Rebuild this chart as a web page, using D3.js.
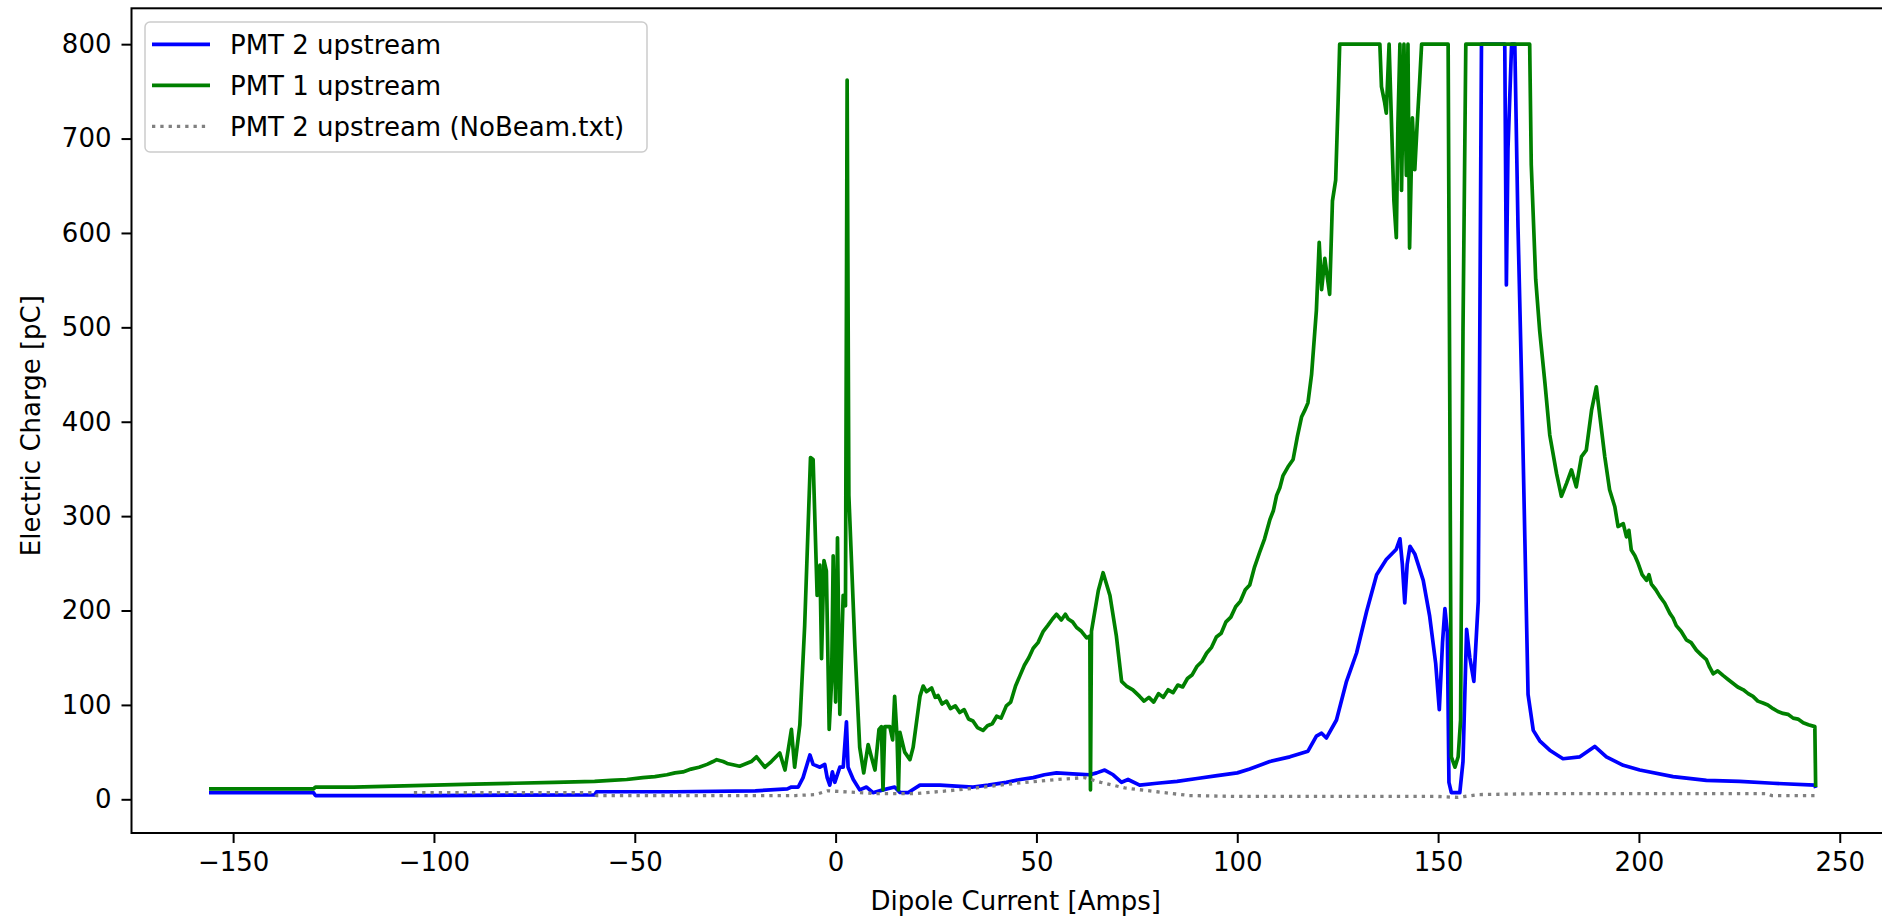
<!DOCTYPE html>
<html>
<head>
<meta charset="utf-8">
<script src="https://cdn.jsdelivr.net/npm/d3@7"></script>
<style>
  body { margin: 0; background: #fff; }
  text { font-family: "DejaVu Sans", sans-serif; fill: #000; }
</style>
</head>
<body>
<svg id="chart" width="1882" height="917"></svg>
<script>
// series values: [dipole current (A), charge (pC)]
const pmt2Upstream = [
  [-156, 7], [-130, 7], [-129.5, 4], [-100, 4], [-80, 4.5], [-60, 4.6], [-59.5, 8], [-40, 8],
  [-20, 9], [-12, 11], [-11, 13], [-9.3, 13], [-8.1, 23], [-6.4, 47], [-5.6, 37], [-3.9, 34],
  [-2.7, 37], [-2.1, 23], [-1.45, 15], [-0.8, 29], [-0.2, 18], [1.05, 34], [1.9, 34], [2.7, 82],
  [3.1, 34], [4.4, 21], [6.0, 10], [7.7, 13], [9.3, 7], [11.8, 10], [14.7, 13], [16, 7.3],
  [18, 7], [21, 15], [26, 15], [30, 14], [34.2, 13], [38, 15], [42.5, 18], [46, 21], [49.2, 23],
  [52, 26], [55, 28], [59, 27], [63.3, 26], [65, 28], [67, 31], [69.1, 26], [71.2, 18],
  [72.8, 21], [75.7, 15], [80, 17], [85, 19], [90, 22], [95, 25], [100, 28], [103.1, 32],
  [108.1, 40], [113.1, 45], [117.6, 51], [119.7, 67], [121, 70], [122.2, 65], [124.7, 84],
  [127.2, 125], [129.7, 155], [132.2, 199], [134.7, 238], [137.1, 254], [139.6, 265],
  [140.5, 276], [141.1, 249], [141.7, 208], [142.3, 249], [143, 268], [144.2, 260],
  [146.3, 232], [147.9, 194], [149.4, 144], [150.3, 95], [151.1, 166], [151.7, 202],
  [152.3, 177], [152.7, 18], [153.3, 7], [155.4, 7], [156.2, 40], [157.1, 180], [157.9, 150],
  [158.9, 125], [160, 210], [160.8, 800], [166.6, 800], [167, 545], [167.4, 689], [168.3, 800],
  [169.1, 800], [169.9, 606], [170.8, 441], [171.6, 276], [172.4, 111], [173.7, 73],
  [175.3, 62], [177.8, 52], [181.1, 43], [185.3, 45], [189, 56], [191.9, 45], [196.1, 36],
  [200.2, 31], [208.5, 24], [216.8, 20], [225.1, 19], [233.4, 17], [243.8, 15], [244, 12]
];

const pmt1Upstream = [
  [-156, 11], [-140, 11], [-130, 11], [-129.5, 13], [-120, 13], [-110, 14], [-100, 15],
  [-90, 16], [-80, 17], [-70, 18], [-60, 19], [-56, 20], [-52, 21], [-48, 23], [-45, 24],
  [-42, 26], [-40, 28], [-38, 29], [-36, 32], [-34, 34], [-32, 37], [-30.5, 40], [-29.6, 42],
  [-28, 40], [-27, 38], [-25, 36], [-23.9, 35], [-21, 40], [-19.7, 45],
  [-17.6, 34], [-16, 40], [-13.9, 49], [-12.6, 31], [-11, 74], [-10.2, 34], [-8.9, 79],
  [-7.7, 184], [-6.25, 362], [-5.6, 360], [-4.6, 216], [-3.9, 248], [-3.5, 149], [-2.9, 253],
  [-2.3, 242], [-1.6, 74], [-1.0, 125], [-0.6, 258], [0.0, 103], [0.47, 277], [1.05, 90],
  [1.88, 216], [2.46, 205], [2.87, 762], [3.3, 322], [4.8, 162], [6.0, 55], [7.0, 28],
  [8.1, 58], [8.9, 45], [9.8, 31], [10.8, 74], [11.4, 77], [11.8, 10], [12.25, 77],
  [13.5, 77], [14.2, 63], [14.7, 109], [15.3, 66], [15.65, 10], [16, 71], [17.2, 50],
  [18.5, 42], [19.3, 55], [21, 109], [21.8, 120], [22.6, 114], [23.9, 118], [24.8, 108],
  [25.5, 110], [26.5, 101], [27.6, 104], [28.6, 96], [29.8, 99], [30.9, 92], [32, 95],
  [33.1, 85], [34.2, 83], [35.3, 76], [36.7, 73], [37.8, 78], [39, 80], [40.1, 88],
  [41.2, 86], [42.5, 99], [43.6, 103], [44.8, 120], [45.9, 131], [47, 142], [48.1, 150],
  [49.2, 160], [50.4, 166], [51.7, 178], [52.8, 184], [54, 191], [55, 196], [56.2, 190],
  [57.2, 196], [57.9, 191], [59, 188], [60, 182], [61.2, 178], [62.5, 171], [63.3, 173],
  [63.45, 10], [63.7, 178], [65.4, 221], [66.6, 240], [68.3, 216], [69.9, 173], [71.2, 125],
  [72.4, 120], [74, 116], [75.7, 109], [76.8, 104], [78, 108], [79.2, 103], [80.4, 112],
  [81.6, 108], [82.8, 116], [84, 113], [85.2, 121], [86.4, 119], [87.6, 128], [88.8, 132],
  [90, 141], [91.2, 146], [92.4, 155], [93.6, 161], [94.8, 172], [96, 176], [97.2, 188],
  [98.4, 193], [99.6, 204], [100.8, 210], [102, 222], [103.1, 227], [104.3, 246],
  [105.6, 262], [106.8, 276], [108.1, 296], [109, 306], [109.8, 322], [110.6, 330],
  [111.4, 343], [112.6, 352], [113.9, 360], [115, 385], [116, 405], [116.8, 412],
  [117.6, 420], [118.5, 450], [119.7, 518], [120.4, 590], [121, 540],
  [121.8, 573], [123, 535], [123.7, 634], [124.5, 656], [125.1, 738], [125.5, 800],
  [135.5, 800], [135.9, 755], [136.7, 738], [137.1, 727], [137.8, 800], [138.4, 716],
  [139, 634], [139.6, 595], [140, 716], [140.5, 800], [140.9, 645], [141.5, 800],
  [142.1, 661], [142.5, 800], [142.9, 584], [143.6, 722], [144.2, 667], [144.8, 716],
  [145.4, 760], [145.9, 800], [152.5, 800], [152.9, 430], [153.3, 45], [154.2, 34],
  [155, 45], [155.6, 84], [156.2, 496], [156.9, 800], [172.8, 800], [173.2, 672],
  [174.3, 551], [175.3, 496], [176.6, 441], [177.8, 386], [179.5, 345], [180.7, 321],
  [182, 335], [183.2, 349], [184.4, 331], [185.7, 363], [186.9, 370], [188.2, 412],
  [189.4, 437], [190.3, 405], [191.5, 363], [192.7, 328], [194, 310], [194.8, 289],
  [196.1, 292], [196.9, 278], [197.5, 285], [198.1, 264], [199, 258], [199.8, 250],
  [200.8, 238], [201.9, 232], [202.5, 238], [203.1, 228], [204.2, 222], [205.2, 215],
  [206.4, 208], [207.7, 197], [208.5, 192], [209.3, 184], [210.5, 178], [211.8, 169],
  [213, 166], [214.3, 158], [215.5, 153], [216.8, 148], [217.6, 140], [218.5, 133],
  [219.6, 136], [221, 131], [222.2, 127], [223.4, 123], [224.6, 119], [226, 116],
  [227.2, 112], [228.4, 109], [229.6, 104], [230.9, 102], [232.1, 100], [233.4, 96],
  [234.6, 93], [235.9, 91], [237.1, 90], [238.4, 86], [239.6, 85], [240.9, 81],
  [242.2, 79], [243.8, 77], [244, 13]
];

const pmt2NoBeam = [
  [-105, 7], [-60, 7], [-59.5, 4], [-10, 4], [-5, 5], [-2, 9], [2, 8], [10, 6], [20, 6],
  [28, 9], [35, 12], [45, 17], [55, 21], [62, 23], [66, 18], [72, 12], [80, 8], [88, 4],
  [100, 3], [150, 3], [155, 2], [160, 5], [175, 6], [232, 6], [233, 4], [244, 4]
];

const xTicks = [-150, -100, -50, 0, 50, 100, 150, 200, 250];
const yTicks = [0, 100, 200, 300, 400, 500, 600, 700, 800];
const seriesNames = ["PMT 2 upstream", "PMT 1 upstream", "PMT 2 upstream (NoBeam.txt)"];

const svg = d3.select("#chart");
const axLeft = 131.5, axTop = 8.3, axBottom = 833, axRight = 1900;

const x = d3.scaleLinear().domain([-175.3, 265]).range([axLeft, axRight]);
const y = d3.scaleLinear().domain([-35.7, 838]).range([axBottom, axTop]);

svg.append("clipPath").attr("id", "plotArea")
  .append("rect").attr("x", axLeft).attr("y", axTop)
  .attr("width", axRight - axLeft).attr("height", axBottom - axTop);

const line = d3.line().x(d => x(d[0])).y(d => y(d[1]));
const plot = svg.append("g").attr("clip-path", "url(#plotArea)");

const series = [
  { data: pmt2Upstream, color: "#0000ff", dash: null },
  { data: pmt1Upstream, color: "#008000", dash: null },
  { data: pmt2NoBeam, color: "#808080", dash: "3.3 5" }
];

series.forEach(s => {
  plot.append("path")
    .datum(s.data)
    .attr("d", line)
    .attr("fill", "none")
    .attr("stroke", s.color)
    .attr("stroke-width", s.dash ? 3.3 : 3.7)
    .attr("stroke-linejoin", "round")
    .attr("stroke-dasharray", s.dash);
});

// axes
const fmt = d => (d < 0 ? "\u2212" + Math.abs(d) : String(d));
const xAxis = svg.append("g")
  .attr("transform", `translate(0,${axBottom})`)
  .call(d3.axisBottom(x).tickValues(xTicks).tickFormat(fmt).tickSize(10).tickPadding(8));
const yAxis = svg.append("g")
  .attr("transform", `translate(${axLeft},0)`)
  .call(d3.axisLeft(y).tickValues(yTicks).tickSize(10).tickPadding(10));

[xAxis, yAxis].forEach(a => {
  a.select(".domain").remove();
  a.selectAll(".tick line").attr("stroke", "#000").attr("stroke-width", 2);
  a.selectAll(".tick text").attr("font-size", 26).attr("fill", "#000")
    .style("font-family", "'DejaVu Sans', sans-serif");
});
xAxis.selectAll(".tick text").attr("dy", "0.76em");

// frame (right spine falls outside the picture)
svg.append("rect")
  .attr("x", axLeft).attr("y", axTop)
  .attr("width", axRight - axLeft).attr("height", axBottom - axTop)
  .attr("fill", "none").attr("stroke", "#000").attr("stroke-width", 2);

svg.append("text")
  .attr("x", (axLeft + axRight) / 2).attr("y", 910)
  .attr("text-anchor", "middle").attr("font-size", 26)
  .text("Dipole Current [Amps]");

svg.append("text")
  .attr("transform", `translate(40,${(axTop + axBottom) / 2 + 5}) rotate(-90)`)
  .attr("text-anchor", "middle").attr("font-size", 26)
  .text("Electric Charge [pC]");

// legend
const legend = svg.append("g");
legend.append("rect")
  .attr("x", 145).attr("y", 22).attr("width", 502).attr("height", 130)
  .attr("rx", 5).attr("fill", "#fff").attr("fill-opacity", 0.8)
  .attr("stroke", "#cccccc").attr("stroke-width", 1.5);

series.forEach((s, i) => {
  const cy = 44.3 + i * 41;
  legend.append("line")
    .attr("x1", 152).attr("x2", 210).attr("y1", cy).attr("y2", cy)
    .attr("stroke", s.color).attr("stroke-width", s.dash ? 3.3 : 3.7)
    .attr("stroke-dasharray", s.dash);
  legend.append("text")
    .attr("x", 230).attr("y", cy + 9.5)
    .attr("font-size", 26)
    .text(seriesNames[i]);
});
</script>
</body>
</html>
